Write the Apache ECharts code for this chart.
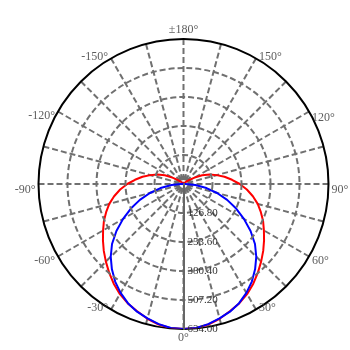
<!DOCTYPE html>
<html>
<head>
<meta charset="utf-8">
<script src="https://cdn.jsdelivr.net/npm/echarts@6/dist/echarts.min.js"></script>
<style>html,body{margin:0;padding:0;background:#fff;}#c{width:350px;height:350px;}</style>
</head>
<body>
<div id="c"></div>
<script>
// Angles in degrees (0 at bottom, counter-clockwise on screen: 90 right, 180 top, 270 = -90 left)
var angles = [0,5,10,15,20,25,30,35,40,45,50,55,60,65,70,75,80,85,90,95,100,105,110,115,120,125,130,135,140,145,150,155,160,165,170,175,180,
  185,190,195,200,205,210,215,220,225,230,235,240,245,250,255,260,265,270,275,280,285,290,295,300,305,310,315,320,325,330,335,340,345,350,355,360];
var redValues = [634,633,624,610,592,576,556,532,506,480,455,430,406,384,360,336,308,278,246,213,182,150,122,90,56,32,18,10,6,5,4,3,3,2,2,2,2,
  2,2,2,3,3,4,5,6,10,18,32,56,90,122,150,182,213,246,278,308,336,360,384,406,430,455,480,506,532,556,576,592,610,624,633,634];
var blueValues = [634,632,622,608,594,575,550,521,487,450,408,358,305,254,203,152,102,52,8,4,3,3,2,2,2,2,2,2,2,2,2,2,2,2,2,2,2,
  2,2,2,2,2,2,2,2,2,2,2,2,2,2,3,3,4,8,52,102,152,203,254,305,358,408,450,487,521,550,575,594,608,622,632,634];
var radiusTicks = [0,126.8,253.6,380.4,507.2,634];
var labelAngles = [0,30,60,90,120,150,180,210,240,270,300,330];
var labelTexts = ['0°','30°','60°','90°','120°','150°','±180°','-150°','-120°','-90°','-60°','-30°'];

function pairs(vals){ return vals.map(function(v,i){ return [v, angles[i]]; }); }

var rMax = radiusTicks[radiusTicks.length-1];
var labelData = labelAngles.map(function(a, i){
  var rad = a * Math.PI / 180;
  var s = Math.sin(rad), c = Math.cos(rad);
  var gap = 3, lab = { show:true, formatter: labelTexts[i], position:'inside' };
  if (Math.abs(s) < 0.3) {
    lab.align = 'center';
    lab.verticalAlign = c > 0 ? 'top' : 'bottom';
    lab.offset = [0, c > 0 ? gap : -gap];
  } else {
    lab.align = s > 0 ? 'left' : 'right';
    lab.verticalAlign = 'middle';
    lab.offset = [s > 0 ? gap : -gap, Math.abs(c) > 0.8 ? -2 : (Math.abs(c) < 0.5 ? 6 : 4)];
  }
  return { value:[rMax, a], label: lab };
});

var chart = echarts.init(document.getElementById('c'), null, {renderer:'canvas'});
chart.setOption({
  animation:false,
  backgroundColor:'#fff',
  polar:{ center:[183.5,184], radius:145 },
  angleAxis:{
    type:'value', min:0, max:360, interval:15, startAngle:270, clockwise:false,
    axisLine:{ show:true, lineStyle:{ color:'#000', width:2 } },
    axisTick:{ show:false },
    axisLabel:{ show:false },
    splitLine:{ show:true, lineStyle:{ color:'#707070', width:2, type:[6,3] } }
  },
  radiusAxis:{
    type:'value', min:radiusTicks[0], max:rMax, interval:radiusTicks[1],
    axisLine:{ show:true, lineStyle:{ color:'#666', width:2 } },
    axisTick:{ show:false },
    axisLabel:{ showMinLabel:false, margin:4, color:'#333', fontFamily:'Liberation Serif', fontSize:11,
      align:'left', verticalAlign:'middle',
      formatter:function(v){ return v.toFixed(2); } },
    splitLine:{ show:true, lineStyle:{ color:['#707070','#707070','#707070','#707070','#707070','rgba(0,0,0,0)'], width:2, type:[6,3] } },
    z:5
  },
  series:[
    { type:'line', coordinateSystem:'polar', data:pairs(redValues), showSymbol:false, symbol:'none',
      lineStyle:{ color:'#ff0000', width:2 }, z:3 },
    { type:'line', coordinateSystem:'polar', data:pairs(blueValues), showSymbol:false, symbol:'none',
      lineStyle:{ color:'#0000ff', width:2 }, z:4 },
    { type:'scatter', coordinateSystem:'polar', data:labelData, symbolSize:1, silent:true,
      itemStyle:{ color:'rgba(0,0,0,0)' },
      label:{ show:true, color:'#333', fontFamily:'Liberation Serif', fontSize:12 }, z:6 }
  ]
});
</script>
</body>
</html>
